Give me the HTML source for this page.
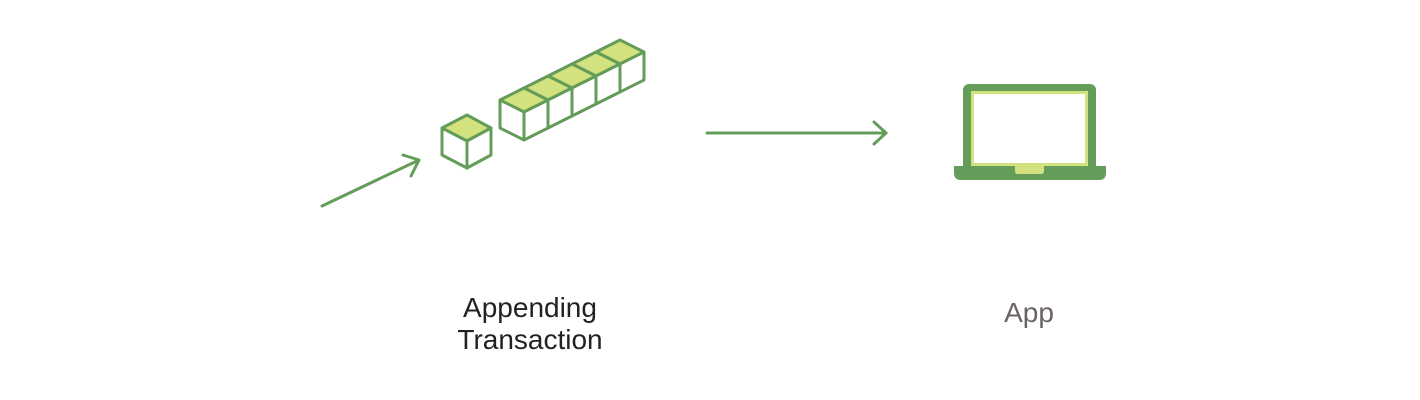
<!DOCTYPE html>
<html><head><meta charset="utf-8"><style>
html,body{margin:0;padding:0;background:#fff;}
body{width:1420px;height:400px;position:relative;overflow:hidden;font-family:"Liberation Sans",sans-serif;}
</style></head><body>
<svg width="1420" height="400" style="position:absolute;left:0;top:0">
<g stroke="#649d5a" stroke-width="3" stroke-linejoin="round" stroke-linecap="round">
<line x1="322" y1="206" x2="419" y2="160" fill="none"/>
<polyline points="403,155 419,160 411,176" fill="none"/>
<line x1="707" y1="133" x2="886" y2="133" fill="none"/>
<polyline points="874,122 886,133 874,144" fill="none"/>
<polygon points="442,128 467,115 491,128 467,141" fill="#d3e27f"/>
<polygon points="442,128 467,141 467,168 442,155" fill="#fff"/>
<polygon points="467,141 491,128 491,155 467,168" fill="#fff"/>
<g transform="translate(96,-48)">
<polygon points="500,100 524,88 548,100 524,112" fill="#d3e27f"/>
<polygon points="500,100 524,112 524,140 500,128" fill="#fff"/>
<polygon points="524,112 548,100 548,128 524,140" fill="#fff"/>
</g>
<g transform="translate(72,-36)">
<polygon points="500,100 524,88 548,100 524,112" fill="#d3e27f"/>
<polygon points="500,100 524,112 524,140 500,128" fill="#fff"/>
<polygon points="524,112 548,100 548,128 524,140" fill="#fff"/>
</g>
<g transform="translate(48,-24)">
<polygon points="500,100 524,88 548,100 524,112" fill="#d3e27f"/>
<polygon points="500,100 524,112 524,140 500,128" fill="#fff"/>
<polygon points="524,112 548,100 548,128 524,140" fill="#fff"/>
</g>
<g transform="translate(24,-12)">
<polygon points="500,100 524,88 548,100 524,112" fill="#d3e27f"/>
<polygon points="500,100 524,112 524,140 500,128" fill="#fff"/>
<polygon points="524,112 548,100 548,128 524,140" fill="#fff"/>
</g>
<g>
<polygon points="500,100 524,88 548,100 524,112" fill="#d3e27f"/>
<polygon points="500,100 524,112 524,140 500,128" fill="#fff"/>
<polygon points="524,112 548,100 548,128 524,140" fill="#fff"/>
</g>
</g>
<rect x="963" y="84" width="133" height="88" rx="6" fill="#649d5a"/>
<rect x="971" y="91" width="117" height="75" fill="#d3e27f"/>
<rect x="974" y="94" width="111" height="69" fill="#fff"/>
<path d="M954,166 H1106 V173 Q1106,180 1099,180 H961 Q954,180 954,173 Z" fill="#649d5a"/>
<path d="M1015,166 H1044 V171 Q1044,174 1041,174 H1018 Q1015,174 1015,171 Z" fill="#d3e27f"/>
</svg>
<div style="position:absolute;left:380px;width:300px;top:292px;text-align:center;font-size:28px;line-height:32px;color:#222">Appending<br>Transaction</div>
<div style="position:absolute;left:929px;width:200px;top:297px;text-align:center;font-size:28px;line-height:32px;color:#6b6262">App</div>
</body></html>
